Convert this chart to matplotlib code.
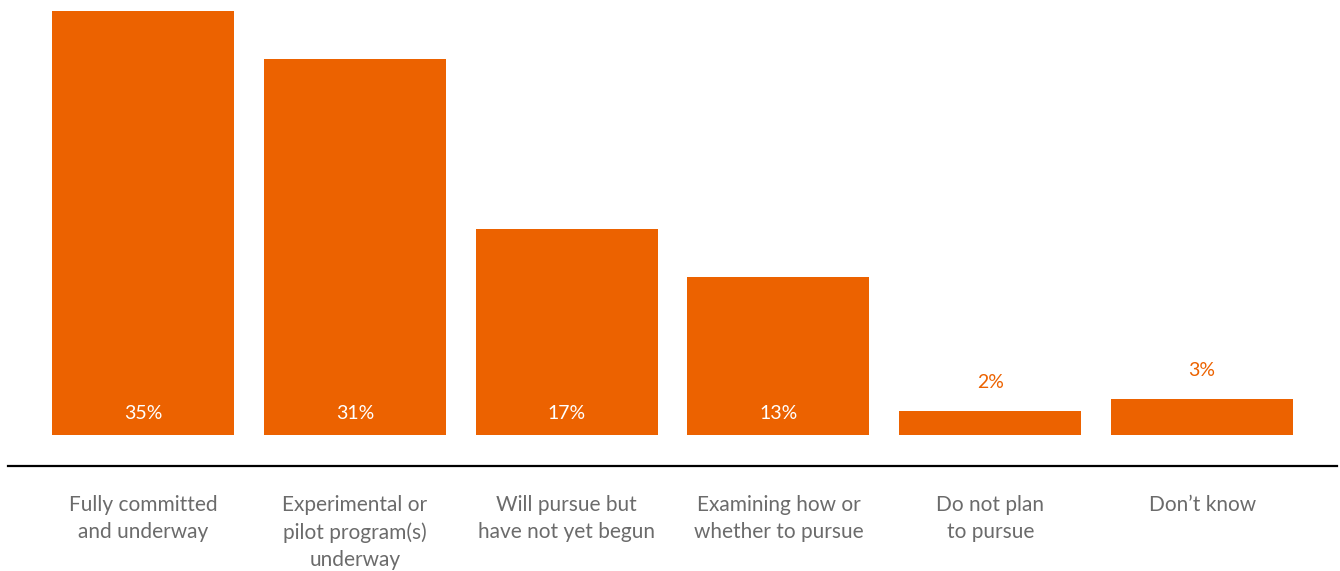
import matplotlib
matplotlib.use("Agg")
import matplotlib.pyplot as plt

categories = ["Fully committed\nand underway",
              "Experimental or\npilot program(s)\nunderway",
              "Will pursue but\nhave not yet begun",
              "Examining how or\nwhether to pursue",
              "Do not plan\nto pursue",
              "Don\u2019t know"]
values = [35, 31, 17, 13, 2, 3]

orange = "#EC6200"
grey = "#6B6B6B"

plt.rcParams['font.family'] = ['Lato', 'DejaVu Sans']

fig = plt.figure(figsize=(13.4, 5.71), dpi=100)
ax = fig.add_axes([8/1340, 1 - 466/571, 1329/1340, 466/571])

x = range(len(values))
ax.bar(x, values, width=0.86, color=orange)

for i, v in enumerate(values):
    if v >= 10:
        ax.text(i, 1.75, f"{v}%", ha="center", va="center", color="white", fontsize=14)
    else:
        ax.text(i, v + 2.35, f"{v}%", ha="center", va="center", color=orange, fontsize=14)

ax.set_xlim(-0.637, 5.637)
ax.set_ylim(-2.56, 35.9)
ax.set_xticks(list(x))
ax.set_xticklabels(categories, color=grey, fontsize=15, linespacing=1.45, va="top")
ax.tick_params(axis="x", length=0, pad=21)
ax.set_yticks([])
for s in ["top", "left", "right"]:
    ax.spines[s].set_visible(False)
ax.spines["bottom"].set_linewidth(1.6)
ax.spines["bottom"].set_color("black")

fig.savefig("out.png", dpi=100)
